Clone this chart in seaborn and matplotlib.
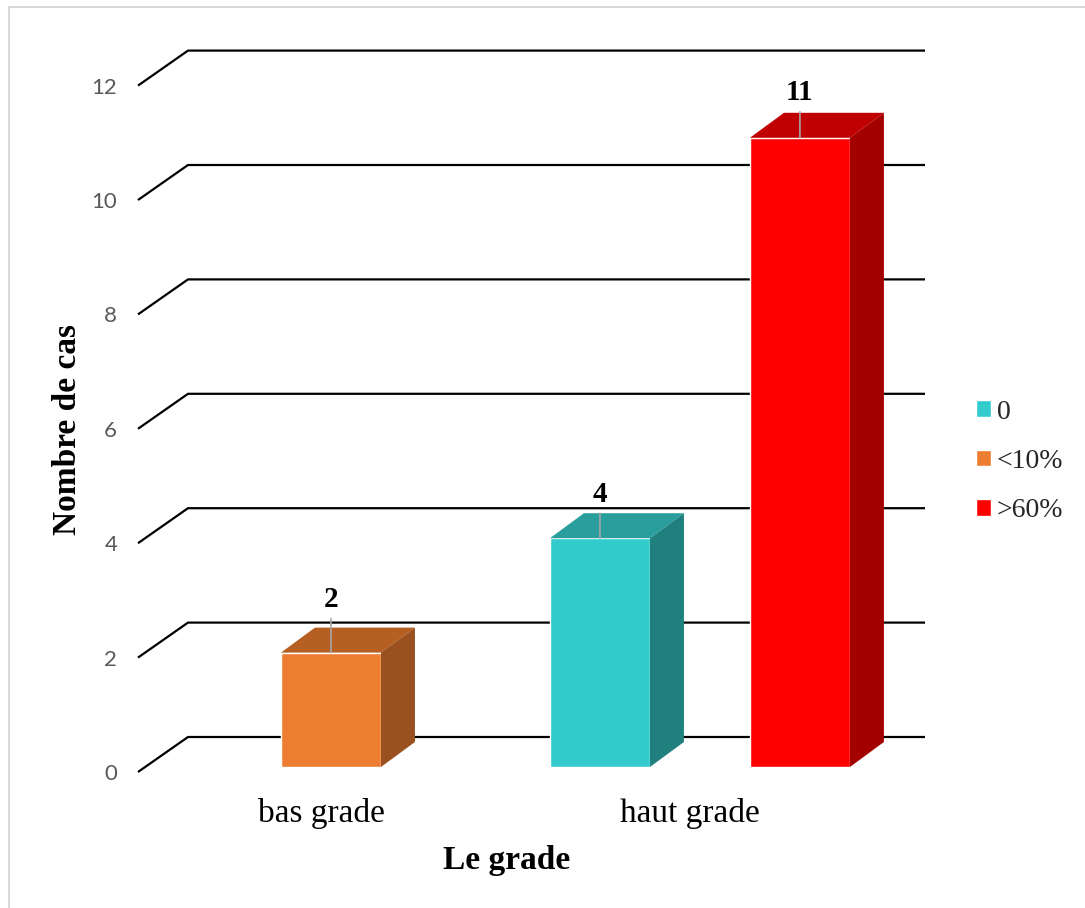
import numpy as np
import pandas as pd
import matplotlib.pyplot as plt
import matplotlib.colors as mcolors
import seaborn as sns
from matplotlib.patches import Polygon, Rectangle
from matplotlib.transforms import ScaledTranslation

# ============================================================================
# DATA
# ============================================================================
grades = ["bas grade", "haut grade", "haut grade"]
groupes = ["<10%", "0", ">60%"]
nb_cas = [2, 4, 11]

grade_order = ["bas grade", "haut grade"]
hue_order = ["0", "<10%", ">60%"]
y_ticks = [0, 2, 4, 6, 8, 10, 12]

# couleurs (face avant / dessus / côté)
front_colors = {"0": "#33CCCC", "<10%": "#ED7D31", ">60%": "#FF0000"}
top_colors = {"0": "#299E9C", "<10%": "#B55F23", ">60%": "#C00000"}
side_colors = {"0": "#1F807D", "<10%": "#9A501F", ">60%": "#A30000"}

# hauteur (pixels) des étiquettes au-dessus des barres
label_lift = {"0": 46, "<10%": 55, ">60%": 47}

df = pd.DataFrame({"grade": grades, "groupe": groupes, "cas": nb_cas})

# ============================================================================
# FIGURE
# ============================================================================
sns.set_style("white")
plt.rcParams["font.family"] = ["Liberation Serif", "DejaVu Serif"]

W, H = 1085, 908
fig = plt.figure(figsize=(W / 100, H / 100), dpi=100)
ax = fig.add_axes([138 / W, 0.14899, (925 - 138) / W, 0.80004])

sns.barplot(
    data=df, x="grade", y="cas", hue="groupe",
    order=grade_order, hue_order=hue_order, palette=front_colors,
    saturation=1, width=0.813, gap=0, dodge=True, errorbar=None,
    ax=ax, zorder=3,
)
bars = list(ax.patches)

ax.set_xlim(-0.523, 1.610)
ax.set_ylim(-0.1, 12.6)
for s in ax.spines.values():
    s.set_visible(False)


def px(dx, dy):
    # convert a pixel offset to data units
    o = ax.transData.transform((0, 0))
    p = ax.transData.inverted().transform(o + np.array([dx, dy]))
    return p[0], p[1]


# ============================================================================
# GRILLE EN PERSPECTIVE
# ============================================================================
xl, xr = ax.get_xlim()
gdx, gdy = px(50, 35)
_, drop = px(0, -5)
for t in y_ticks:
    y0 = t + drop
    ax.plot([xl, xl + gdx, xr], [y0, y0 + gdy, y0 + gdy],
            color="black", lw=1.6, zorder=1, clip_on=False,
            solid_capstyle="butt")

# ============================================================================
# BARRES 3D
# ============================================================================
color_to_hue = {mcolors.to_hex(c): k for k, c in front_colors.items()}
ddx, ddy = px(34, 25)
for p in bars:
    h = p.get_height()
    if not np.isfinite(h) or h == 0:
        continue
    hue = color_to_hue[mcolors.to_hex(p.get_facecolor())]
    x0, w = p.get_x(), p.get_width()
    top = [(x0, h), (x0 + w, h), (x0 + w + ddx, h + ddy), (x0 + ddx, h + ddy)]
    side = [(x0 + w, 0), (x0 + w + ddx, ddy), (x0 + w + ddx, h + ddy), (x0 + w, h)]
    ax.add_patch(Polygon(top, closed=True, facecolor=top_colors[hue],
                         edgecolor="none", zorder=3))
    ax.add_patch(Polygon(side, closed=True, facecolor=side_colors[hue],
                         edgecolor="none", zorder=3))
    cx = x0 + w / 2
    lift = label_lift[hue]
    ax.annotate("", xy=(cx, h), xytext=(0, lift - 21), textcoords="offset pixels",
                arrowprops=dict(arrowstyle="-", color="#A6A6A6", lw=1.2,
                                shrinkA=0, shrinkB=0), zorder=4)
    ax.annotate(f"{int(h)}", xy=(cx, h), xytext=(0, lift - 2), textcoords="offset pixels",
                ha="center", va="center", fontsize=21, fontweight="bold",
                color="black", zorder=5)

# ============================================================================
# AXES, ÉTIQUETTES
# ============================================================================
ax.set_yticks(y_ticks)
ax.set_yticklabels([str(t) for t in y_ticks], fontsize=16, color="#595959",
                   family=["Lato", "DejaVu Sans"])
ax.tick_params(axis="y", length=0, pad=15)
for lab in ax.get_yticklabels():
    lab.set_transform(lab.get_transform() + ScaledTranslation(0, -0.05, fig.dpi_scale_trans))

ax.set_xticks([0, 1])
ax.set_xticklabels(grade_order, fontsize=24, color="black")
ax.tick_params(axis="x", length=0, pad=18)
for lab in ax.get_xticklabels():
    lab.set_transform(lab.get_transform() + ScaledTranslation(-0.10, 0, fig.dpi_scale_trans))

ax.set_xlabel("Le grade", fontsize=24, fontweight="bold", color="black")
ax.xaxis.label.set_verticalalignment("center")
ax.xaxis.set_label_coords(0.4689, -0.121)

ax.set_ylabel("Nombre de cas", fontsize=24, fontweight="bold", color="black")
ax.yaxis.label.set_verticalalignment("center")
ax.yaxis.set_label_coords(-0.089, 0.472)

# ============================================================================
# LÉGENDE
# ============================================================================
sns.move_legend(
    ax, loc="center left", bbox_to_anchor=(976 / W, 1 - 461.5 / H),
    bbox_transform=fig.transFigure, frameon=False, title=None,
    fontsize=20, handlelength=0.54, handleheight=0.54, handletextpad=0.2,
    labelspacing=0.88, borderpad=0, borderaxespad=0,
)

# cadre gris clair
fig.add_artist(Rectangle((9 / W, -0.05), 1.1, 1 - 7 / H + 0.05, transform=fig.transFigure,
                         fill=False, edgecolor="#D9D9D9", lw=1.5))

fig.savefig("out.png", dpi=100)
